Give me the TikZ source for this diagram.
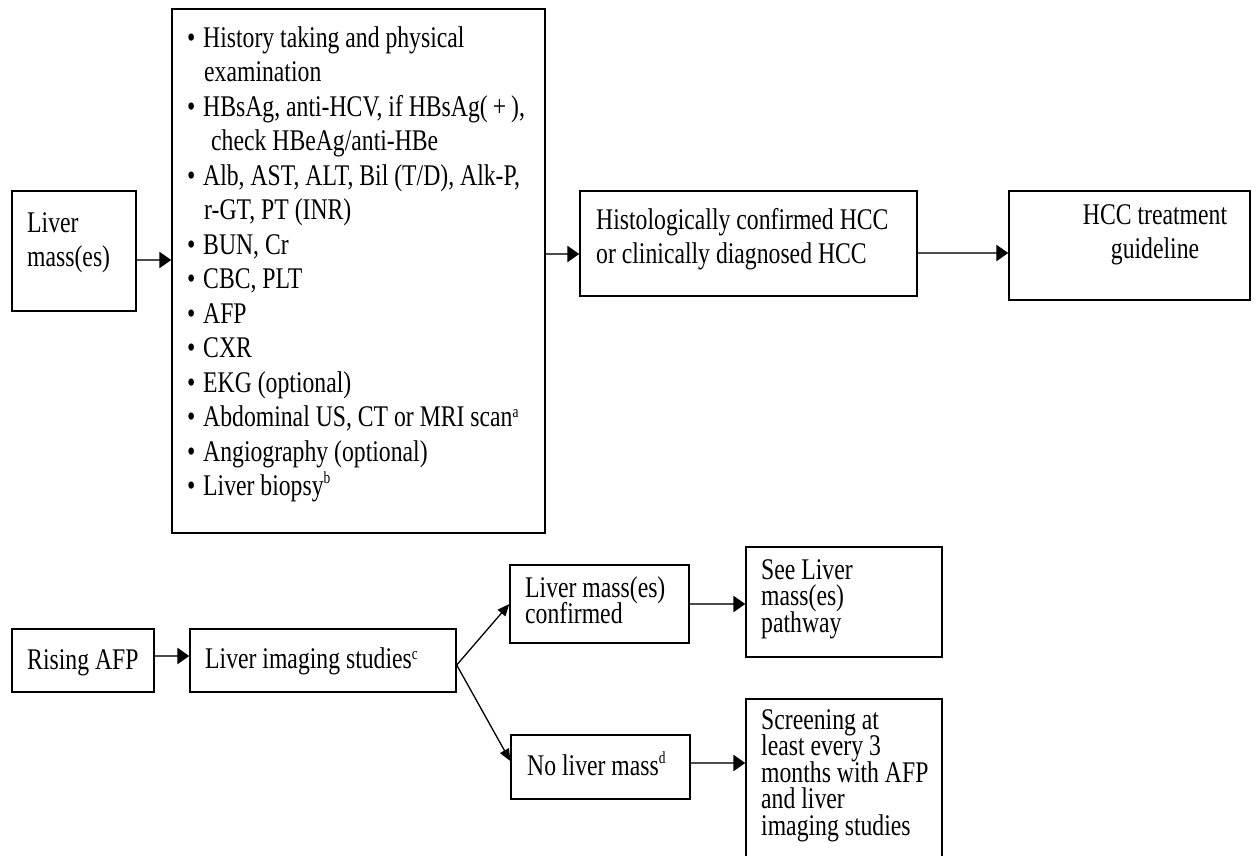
\documentclass[tikz,border=0pt]{standalone}
\usepackage{fontspec}
\setmainfont{Liberation Serif}[FakeStretch=0.79]
\usetikzlibrary{arrows.meta}
\newcommand{\fl}{\rule{0pt}{24pt}}
\newcommand{\bul}{\makebox[16pt][l]{\textbullet}}
\newcommand{\ind}{\hspace*{17pt}}
\newcommand{\sups}[2][9pt]{\raisebox{#1}{\fontsize{17}{17}\selectfont #2}}
\newcommand{\bigfnt}{\fontsize{30}{34.5}\selectfont\lineskiplimit=-100pt\relax}
\newcommand{\smallfnt}{\fontsize{30}{26.5}\selectfont\lineskiplimit=-100pt\relax}
\begin{document}
\begin{tikzpicture}[x=1pt,y=-1pt,
  box/.style={draw=black, line width=1.4pt, inner sep=0pt},
  txt/.style={inner sep=0pt, align=left, anchor=north west},
  bigtxt/.style={txt, font=\bigfnt},
  smalltxt/.style={txt, font=\smallfnt},
  arr/.style={draw=black!70, line width=2.6pt, -{Triangle[length=12pt,width=16pt,color=black]}},
  darr/.style={draw=black, line width=1.3pt, -{Triangle[length=12pt,width=10pt]}}]
\clip (0,0) rectangle (1258,855);
\fill[white] (0,0) rectangle (1258,855);

% boxes
\node[box, minimum width=124pt, minimum height=120pt] (lm)   at (74,251) {};
\node[box, minimum width=373pt, minimum height=524pt] (big)  at (358.5,271) {};
\node[box, minimum width=337pt, minimum height=105pt] (hist) at (748.5,243.5) {};
\node[box, minimum width=241pt, minimum height=109pt] (hcc)  at (1129.5,245.5) {};
\node[box, minimum width=142pt, minimum height=63pt]  (raf)  at (83,660.5) {};
\node[box, minimum width=266pt, minimum height=63pt]  (lis)  at (323,660.5) {};
\node[box, minimum width=179pt, minimum height=78pt]  (lmc)  at (599.5,604) {};
\node[box, minimum width=196pt, minimum height=110pt] (see)  at (844,602) {};
\node[box, minimum width=179pt, minimum height=64pt]  (nlm)  at (600.5,767) {};
\node[box, minimum width=196pt, minimum height=181pt] (scr)  at (844,789.5) {};

% texts
\node[bigtxt] (lmT) at (27,208) {\fl Liver\\mass(es)};
\node[bigtxt] (bigT) at (187,23) {\fl\bul History taking and physical\\
\ind examination\\
\bul HBsAg, anti-HCV, if HBsAg(\,+\,),\\
\hspace*{24pt}check HBeAg/anti-HBe\\
\bul Alb, AST, ALT, Bil (T/D), Alk-P,\\
\ind r-GT, PT (INR)\\
\bul BUN, Cr\\
\bul CBC, PLT\\
\bul AFP\\
\bul CXR\\
\bul EKG (optional)\\
\bul Abdominal US, CT or MRI scan\sups{a}\\
\bul Angiography (optional)\\
\bul Liver biopsy\sups[12pt]{b}};
\node[bigtxt] (histT) at (596,205) {\fl Histologically confirmed HCC\\or clinically diagnosed HCC};
\node[bigtxt, align=center, anchor=north] (hccT) at (1155,200) {\fl HCC treatment\\guideline};
\node[bigtxt] (rafT) at (27,645) {\fl Rising AFP};
\node[bigtxt] (lisT) at (205,644) {\fl Liver imaging studies\sups{c}};
\node[smalltxt] (lmcT) at (525,573) {\fl Liver mass(es)\\confirmed};
\node[smalltxt] (seeT) at (761,555) {\fl See Liver\\mass(es)\\pathway};
\node[smalltxt] (nlmT) at (527,751) {\fl No liver mass\sups[12pt]{d}};
\node[smalltxt] (scrT) at (761,705) {\fl Screening at\\least every 3\\months with AFP\\and liver\\imaging studies};

% connectors
\coordinate (a1) at ([yshift=-9pt]lm.east);
\draw[arr] (a1) -- (a1 -| big.west);
\coordinate (a2) at ([yshift=17pt]big.east);
\draw[arr] (a2) -- (a2 -| hist.west);
\coordinate (a3) at ([yshift=-9.5pt]hist.east);
\draw[arr] (a3) -- (a3 -| hcc.west);
\coordinate (a4) at ([yshift=4.5pt]raf.east);
\draw[arr] (a4) -- (a4 -| lis.west);
\coordinate (a5) at ([yshift=-4.5pt]lis.east);
\draw[darr] (a5) -- (lmc.west);
\draw[darr] (a5) -- ([yshift=6pt]nlm.west);
\draw[arr] (lmc.east) -- (lmc.east -| see.west);
\coordinate (a6) at ([yshift=4pt]nlm.east);
\draw[arr] (a6) -- (a6 -| scr.west);
\end{tikzpicture}
\end{document}
